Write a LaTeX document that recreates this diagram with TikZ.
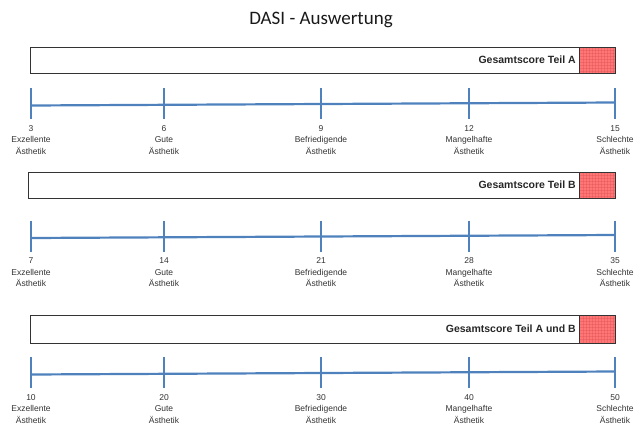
\documentclass[tikz,border=0pt]{standalone}
\usepackage{fontspec}
\setmainfont{Liberation Sans}
\newfontfamily\titlefont{Carlito}
\definecolor{axisblue}{RGB}{79,129,189}
\definecolor{scorered}{RGB}{255,118,118}
\definecolor{gridred}{RGB}{215,70,70}
\begin{document}
\begin{tikzpicture}[x=1pt,y=-1pt,
  axisline/.style={draw=axisblue, line width=2.2pt},
  tickline/.style={draw=axisblue, line width=2pt},
  scorebox/.style={draw=black!80, line width=1.1pt, inner sep=0, anchor=north west},
  redbox/.style={fill=scorered, draw=none, inner sep=0, anchor=north east},
  gridline/.style={draw=gridred, line width=0.3pt, opacity=0.3},
  boxlabel/.style={font=\bfseries\fontsize{10.5}{12}\selectfont, anchor=base east, inner sep=0, text=black!85},
  ticklabel/.style={font=\fontsize{8.5}{11.5}\selectfont, align=center, anchor=north, inner sep=0, text=black!80},
]
\useasboundingbox (0,0) rectangle (643,442);
\node[font=\titlefont\fontsize{19}{22}\selectfont, anchor=base, text=black!90] (title) at (321,24) {DASI - Auswertung};

\foreach \id/\bt/\bb/\bl/\ay/\lab/\na/\nb/\nc/\nd/\ne in {
  A/47/73/30/104/Gesamtscore Teil A/3/6/9/12/15,
  B/172/198/28/236.5/Gesamtscore Teil B/7/14/21/28/35,
  C/315/343/30/373/Gesamtscore Teil A und B/10/20/30/40/50}
{
  % red end field with fine grid
  \node[redbox, minimum width=35, minimum height={\bb-\bt}] (red\id) at (615,\bt) {};
  \foreach \gx in {583,586,...,613} {\draw[gridline] (\gx,\bt) -- (\gx,\bb);}
  \foreach \gy in {3,6,...,26} {\draw[gridline] (580,{\bt+\gy}) -- (615,{\bt+\gy});}
  % score box
  \node[scorebox, minimum width={615-\bl}, minimum height={\bb-\bt}] (box\id) at (\bl,\bt) {};
  \draw[draw=black!80, line width=1.1pt] (red\id.north west) -- (red\id.south west);
  \node[boxlabel] (lab\id) at (576,{(\bt+\bb)/2+3.8}) {\lab};
  % axis
  \coordinate (a\id s) at (31,{\ay+1.5});
  \coordinate (a\id e) at (615,{\ay-1.5});
  \draw[axisline] (a\id s) -- (a\id e);
  \foreach \k/\tx in {1/31,2/164,3/321,4/469,5/615} {
    \coordinate (t\id\k) at (\tx,{\ay-16});
    \coordinate (b\id\k) at (\tx,{\ay+15});
    \draw[tickline] (t\id\k) -- (b\id\k);
  }
  \node[ticklabel] (l\id1) at ([yshift=-6pt]b\id1) {\na\\Exzellente\\Ästhetik};
  \node[ticklabel] (l\id2) at ([yshift=-6pt]b\id2) {\nb\\Gute\\Ästhetik};
  \node[ticklabel] (l\id3) at ([yshift=-6pt]b\id3) {\nc\\Befriedigende\\Ästhetik};
  \node[ticklabel] (l\id4) at ([yshift=-6pt]b\id4) {\nd\\Mangelhafte\\Ästhetik};
  \node[ticklabel] (l\id5) at ([yshift=-6pt]b\id5) {\ne\\Schlechte\\Ästhetik};
}
\end{tikzpicture}
\end{document}
